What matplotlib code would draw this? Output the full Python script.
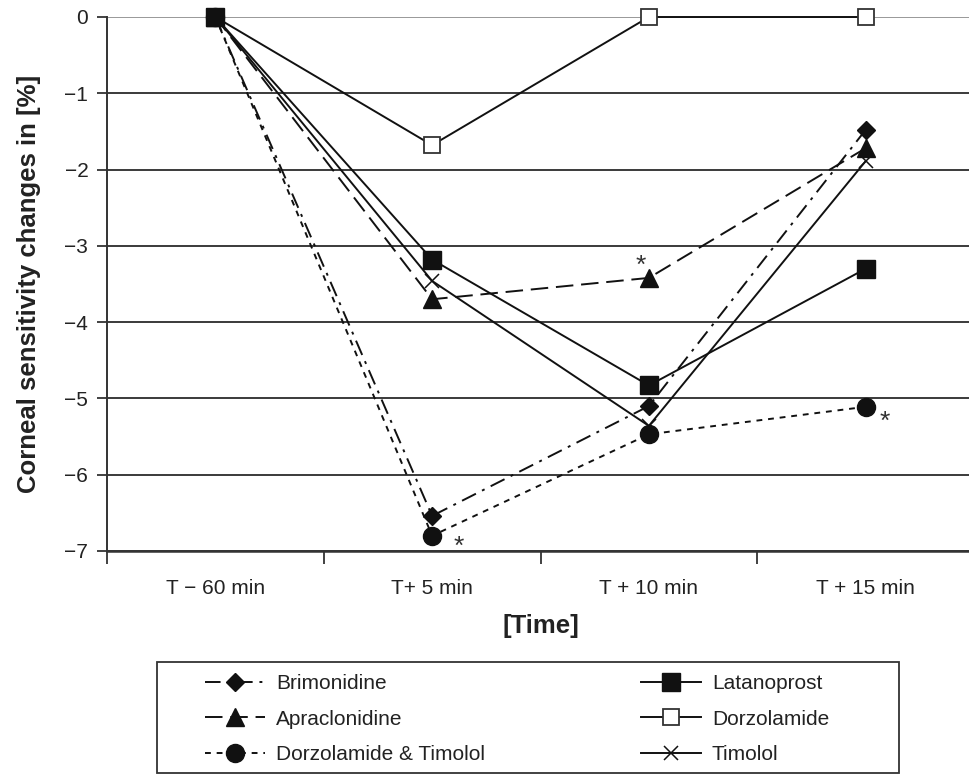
import matplotlib.pyplot as plt
from matplotlib.patches import Rectangle

plt.rcParams['font.family'] = ['Liberation Sans', 'DejaVu Sans']

# data
time_labels = ['T − 60 min', 'T+ 5 min', 'T + 10 min', 'T + 15 min']
brimonidine = [0, -6.54, -5.10, -1.48]
apraclonidine = [0, -3.70, -3.42, -1.72]
dorz_timolol = [0, -6.80, -5.47, -5.11]
latanoprost = [0, -3.18, -4.83, -3.30]
dorzolamide = [0, -1.68, 0, 0]
timolol = [0, -3.46, -5.36, -1.89]
x = list(range(len(time_labels)))

fig = plt.figure(figsize=(9.69, 7.75), dpi=100)
ax = fig.add_axes([107 / 969, 1 - 551 / 775, 867 / 969, 534 / 775])

lw = 1.4
h_brim, = ax.plot(x, brimonidine, color='#111111', lw=lw, dashes=(8, 3.5, 1.5, 3.5),
                  marker='D', ms=9.5, label='Brimonidine', zorder=3, clip_on=False)
h_apra, = ax.plot(x, apraclonidine, color='#111111', lw=lw, dashes=(9, 4),
                  marker='^', ms=13, label='Apraclonidine', zorder=3, clip_on=False)
h_dt, = ax.plot(x, dorz_timolol, color='#111111', lw=lw, dashes=(3, 3),
                marker='o', ms=13, label='Dorzolamide & Timolol', zorder=3, clip_on=False)
h_tim, = ax.plot(x, timolol, color='#111111', lw=lw, marker='x', ms=10, mew=1.1,
                 label='Timolol', zorder=3, clip_on=False)
h_dorz, = ax.plot(x, dorzolamide, color='#111111', lw=lw, marker='s', ms=12,
                  mfc='white', mec='#333333', mew=1.3, label='Dorzolamide', zorder=3,
                  clip_on=False)
h_lat, = ax.plot(x, latanoprost, color='#111111', lw=lw, marker='s', ms=13,
                 label='Latanoprost', zorder=4, clip_on=False)

# significance marks
ax.annotate('*', (2, apraclonidine[2]), xytext=(-6, 9), textcoords='offset points',
            ha='center', va='center', fontsize=19, color='#333333')
ax.annotate('*', (1, dorz_timolol[1]), xytext=(19, -8), textcoords='offset points',
            ha='center', va='center', fontsize=19, color='#333333')
ax.annotate('*', (3, dorz_timolol[3]), xytext=(14, -11), textcoords='offset points',
            ha='center', va='center', fontsize=19, color='#333333')

ax.set_xlim(-0.5, 3.5)
ax.set_ylim(-7, 0)
ax.set_yticks(range(-7, 1))
ax.set_yticklabels([str(v).replace('-', '−') for v in range(-7, 1)])
ax.set_xticks(x)
ax.set_xticklabels(time_labels)
ax.set_xticks([-0.5, 0.5, 1.5, 2.5], minor=True)
ax.tick_params(axis='x', which='major', length=0, pad=20, labelsize=15, labelcolor='#222222')
ax.tick_params(axis='x', which='minor', length=9, width=1.3, direction='out', color='#333333')
ax.tick_params(axis='y', length=7.5, width=1.3, pad=6, labelsize=15, color='#333333',
               labelcolor='#222222')

ax.grid(True, axis='y', color='#3a3a3a', lw=1.4)
ax.set_axisbelow(True)
ax.get_ygridlines()[-1].set_color('#999999')
for s in ['top', 'right']:
    ax.spines[s].set_visible(False)
ax.spines['left'].set_linewidth(1.4)
ax.spines['left'].set_color('#333333')
ax.spines['bottom'].set_linewidth(1.8)
ax.spines['bottom'].set_color('#333333')

ax.set_xlabel('[Time]', fontsize=18.5, fontweight='bold', labelpad=12, color='#222222')
ax.set_ylabel('Corneal sensitivity changes in [%]', fontsize=18.5, fontweight='bold',
              labelpad=17, color='#222222')

leg = fig.legend(handles=[h_brim, h_apra, h_dt, h_lat, h_dorz, h_tim], ncol=2,
                 loc='upper left', bbox_to_anchor=(205 / 969, 1 - 674 / 775),
                 fontsize=15, frameon=False, handlelength=2.9, handletextpad=0.5,
                 columnspacing=7.5, borderpad=0, borderaxespad=0, labelspacing=0.8)
for t in leg.get_texts():
    t.set_color('#222222')
fig.add_artist(Rectangle((157 / 969, 1 - 773 / 775), 742 / 969, 111 / 775,
                         transform=fig.transFigure, fill=False, edgecolor='#333333', lw=1.3))

plt.savefig('out.png', dpi=100)
